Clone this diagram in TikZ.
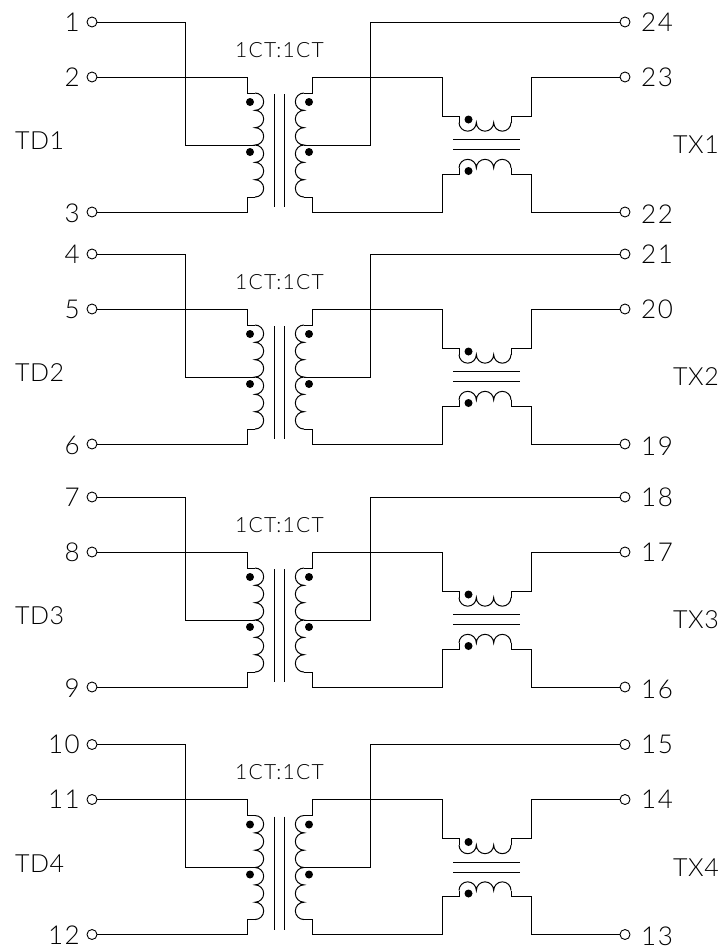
\documentclass[tikz,border=0pt]{standalone}
\usepackage{fontspec}
\usepackage{tikz}
\newfontfamily\cadfont[LetterSpace=6]{Lato Light}
\def\pricoil{(255,93) arc (-90:90:8.67) arc (-90:90:8.67) arc (-90:90:8.67) arc (-90:90:8.67) arc (-90:90:8.67) arc (-90:90:8.67)}
\def\seccoil{(304,93) arc (-90:-270:8.67) arc (-90:-270:8.67) arc (-90:-270:8.67) arc (-90:-270:8.67) arc (-90:-270:8.67) arc (-90:-270:8.67)}
\def\uppercoil{(459,122.5) arc (180:0:8.67) arc (180:0:8.67) arc (180:0:8.67)}
\def\lowercoil{(459,168) arc (180:360:8.67) arc (180:360:8.67) arc (180:360:8.67)}
\tikzset{
	wire/.style={line width=1pt},
	pin/.style={circle,draw,line width=0.9pt,inner sep=0pt,minimum size=10pt},
	pinlabel/.style={inner sep=0pt,font=\cadfont\fontsize{26}{26}\selectfont},
	sidelabel/.style={inner sep=0pt,anchor=west,font=\cadfont\fontsize{25}{25}\selectfont\addfontfeature{LetterSpace=2}},
	ratio/.style={inner sep=0pt,font=\cadfont\fontsize{21}{21}\selectfont}
}

\begin{document}
\begin{tikzpicture}[x=1pt,y=-1pt]
	 \useasboundingbox (0,0) rectangle (726,948);
	 \foreach \dy/\n/\pa/\pb/\pc/\pd/\pe/\pf in {0/1/1/2/3/22/23/24,232/2/4/5/6/19/20/21,475/3/7/8/9/16/17/18,722.5/4/10/11/12/13/14/15} {
	 \begin{scope}[shift={(0,\dy)}]
	    \node[pin] (pin\pa) at (92,22) {};
	    \node[pin] (pin\pb) at (92,77) {};
	    \node[pin] (pin\pc) at (92,212) {};
	    \node[pin] (pin\pf) at (625,22) {};
	    \node[pin] (pin\pe) at (625,77) {};
	    \node[pin] (pin\pd) at (625,212) {};
	    \node[pinlabel,anchor=east] (lbl\pa) at (80,22) {\pa};
	    \node[pinlabel,anchor=east] (lbl\pb) at (80,77) {\pb};
	    \node[pinlabel,anchor=east] (lbl\pc) at (80,213) {\pc};
	    \node[pinlabel,anchor=west] (lbl\pf) at (641,22) {\pf};
	    \node[pinlabel,anchor=west] (lbl\pe) at (641,77) {\pe};
	    \node[pinlabel,anchor=west] (lbl\pd) at (641,214) {\pd};
	    \node[sidelabel] (td\n) at (15,141) {TD\n};
	    \node[sidelabel] (tx\n) at (673,145) {TX\n};
	    \node[ratio] (ct\n) at (279.5,50) {1CT:1CT};
	    \coordinate (ptop\n) at (255,93);
	    \coordinate (ptap\n) at (255,145);
	    \coordinate (pbot\n) at (255,197);
	    \coordinate (stop\n) at (304,93);
	    \coordinate (stap\n) at (304,145);
	    \coordinate (sbot\n) at (304,197);
	    \draw[wire] (pin\pa) -| (185,145) -- (ptap\n);
	    \draw[wire] (pin\pb) -| (247,93) -- (ptop\n);
	    \draw[wire] (pin\pc) -| (247,197) -- (pbot\n);
	    \draw[wire] (pin\pf) -| (370,145) -- (stap\n);
	    \draw[wire] (stop\n) -- (312,93) -- (312,77) -- (442,77) -- (442,116) -- (459,116) -- (459,122.5);
	    \draw[wire] (sbot\n) -- (312,197) -- (312,212) -- (442,212) -- (442,174) -- (459,174) -- (459,168);
	    \draw[wire] (pin\pe) -| (531,116) -- (511,116) -- (511,122.5);
	    \draw[wire] (pin\pd) -| (531,174) -- (511,174) -- (511,168);
	    \draw[wire] \pricoil;
	    \draw[wire] \seccoil;
	    \draw[wire] \uppercoil;
	    \draw[wire] \lowercoil;
	    \draw[wire] (274.5,94) -- (274.5,207);
	    \draw[wire] (284,94) -- (284,207);
	    \draw[wire] (453,139.5) -- (520,139.5);
	    \draw[wire] (453,149.5) -- (520,149.5);
	    \fill (250,102) circle (4);
	    \fill (250,152) circle (4);
	    \fill (309,102) circle (4);
	    \fill (309,152) circle (4);
	    \fill (468.5,119.5) circle (4);
	    \fill (468.5,171) circle (4);
	 \end{scope}
	 }
\end{tikzpicture}
\end{document}
